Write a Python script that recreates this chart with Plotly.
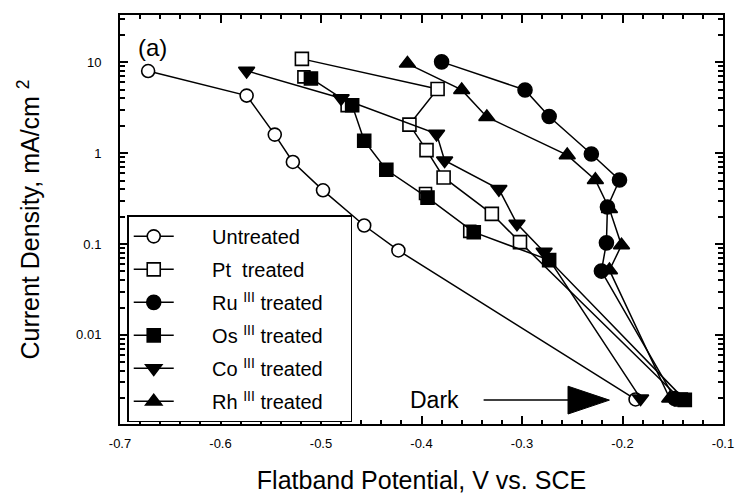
import plotly.graph_objects as go

# ---------------- data ----------------
untreated_x = [-0.672, -0.574, -0.546, -0.528, -0.498, -0.457, -0.423, -0.187]
untreated_y = [8.0, 4.3, 1.6, 0.8, 0.39, 0.16, 0.085, 0.00195]

pt_x = [-0.519, -0.384, -0.412, -0.395, -0.378, -0.330, -0.302, -0.142]
pt_y = [10.9, 5.08, 2.06, 1.08, 0.54, 0.215, 0.105, 0.00195]
# extra Pt symbols partly hidden behind the Os symbols (no connecting line)
pt_extra_x = [-0.517, -0.474, -0.396, -0.352]
pt_extra_y = [6.9, 3.33, 0.36, 0.138]

ru_x = [-0.380, -0.297, -0.273, -0.231, -0.203, -0.215, -0.216, -0.221, -0.148]
ru_y = [10.1, 4.96, 2.53, 0.98, 0.507, 0.256, 0.103, 0.0504, 0.002]

os_x = [-0.510, -0.469, -0.457, -0.435, -0.394, -0.348, -0.273, -0.138]
os_y = [6.64, 3.37, 1.37, 0.656, 0.324, 0.135, 0.0666, 0.00193]

co_x = [-0.574, -0.480, -0.385, -0.377, -0.323, -0.305, -0.278, -0.182]
co_y = [8.04, 4.02, 1.63, 0.83, 0.402, 0.167, 0.082, 0.002]

rh_x = [-0.414, -0.360, -0.335, -0.255, -0.227, -0.213, -0.201, -0.213, -0.153]
rh_y = [9.68, 4.96, 2.50, 0.95, 0.508, 0.243, 0.0968, 0.0516, 0.002]

x_tickvals = [-0.7, -0.6, -0.5, -0.4, -0.3, -0.2, -0.1]
x_ticktext = ["-0.7", "-0.6", "-0.5", "-0.4", "-0.3", "-0.2", "-0.1"]
y_tickvals = [0.01, 0.1, 1, 10]
y_ticktext = ["0.01", "0.1", "1", "10"]

FONT = "Liberation Sans, Arial, sans-serif"
LPAD = "\u00a0" * 6   # pushes legend text right, as in the reference
RPAD = "\u00a0" * 4   # widens the legend box

fig = go.Figure()

def add(name, xs, ys, symbol, fill, size=13, group=None, showlegend=True, mode="lines+markers"):
    fig.add_trace(go.Scatter(
        x=xs, y=ys, mode=mode, name=LPAD + name + RPAD,
        legendgroup=group or name, showlegend=showlegend,
        line=dict(color="black", width=1.5),
        marker=dict(symbol=symbol, size=size, color=fill,
                    line=dict(color="black", width=1.6)),
    ))

add("Untreated", untreated_x, untreated_y, "circle", "white")
add("Pt  treated", pt_x, pt_y, "square", "white", size=13)
add("Pt  treated", pt_extra_x, pt_extra_y, "square", "white", size=12,
    group="Pt  treated", showlegend=False, mode="markers")
add("Ru <sup>III</sup> treated", ru_x, ru_y, "circle", "black", size=14)
add("Os <sup>III</sup> treated", os_x, os_y, "square", "black", size=13)
add("Co <sup>III</sup> treated", co_x, co_y, "triangle-down", "black", size=14)
add("Rh <sup>III</sup> treated", rh_x, rh_y, "triangle-up", "black", size=14)

minor_y = [m * 10 ** e for e in range(-3, 2) for m in range(2, 10)]

fig.update_layout(
    width=746, height=502,
    margin=dict(l=120, r=21, t=15, b=77),
    paper_bgcolor="white", plot_bgcolor="white",
    font=dict(family=FONT, color="black"),
    showlegend=True,
    legend=dict(
        x=0.012, y=0.004, xanchor="left", yanchor="bottom",
        bgcolor="white", bordercolor="black", borderwidth=1.5,
        font=dict(family=FONT, size=20, color="black"),
        traceorder="grouped", tracegroupgap=4,
        itemwidth=40,
    ),
    xaxis=dict(
        range=[-0.7, -0.1], tickvals=x_tickvals, ticktext=x_ticktext,
        ticks="inside", ticklen=8, tickwidth=2, tickcolor="black",
        minor=dict(dtick=0.02, tick0=-0.7, ticks="inside", ticklen=4,
                   tickwidth=2, tickcolor="black"),
        showline=True, linewidth=2, linecolor="black", mirror="ticks",
        showgrid=False, zeroline=False,
        tickfont=dict(size=13, family=FONT),
        ticklabelstandoff=6,
        title=dict(text="Flatband Potential, V vs. SCE",
                   font=dict(size=25, family=FONT), standoff=22),
    ),
    yaxis=dict(
        type="log", range=[-2.98, 1.52],
        tickvals=y_tickvals, ticktext=y_ticktext,
        ticks="inside", ticklen=8, tickwidth=2, tickcolor="black",
        minor=dict(tickvals=minor_y, ticks="inside", ticklen=5,
                   tickwidth=2, tickcolor="black", showgrid=False),
        showline=True, linewidth=2, linecolor="black", mirror="ticks",
        showgrid=False, zeroline=False,
        tickfont=dict(size=13, family=FONT),
        ticklabelstandoff=14,
        title=dict(text="Current Density, mA/cm <sup>2</sup>",
                   font=dict(size=25, family=FONT), standoff=29),
    ),
    annotations=[
        dict(text="(a)", xref="paper", yref="paper", x=0.026, y=0.92,
             xanchor="left", yanchor="middle", showarrow=False,
             font=dict(size=24, family=FONT)),
        dict(text="Dark", xref="paper", yref="paper", x=0.521, y=0.058,
             xanchor="center", yanchor="middle", showarrow=False,
             font=dict(size=23, family=FONT)),
    ],
    shapes=[
        dict(type="line", xref="paper", yref="paper",
             x0=0.603, x1=0.76, y0=0.0584, y1=0.0584,
             line=dict(color="black", width=1.5)),
        dict(type="path", xref="paper", yref="paper",
             path="M 0.743 0.0244 L 0.743 0.0924 L 0.8116 0.0584 Z",
             fillcolor="black", line=dict(color="black", width=1)),
    ],
)

fig.write_html("out.html")
